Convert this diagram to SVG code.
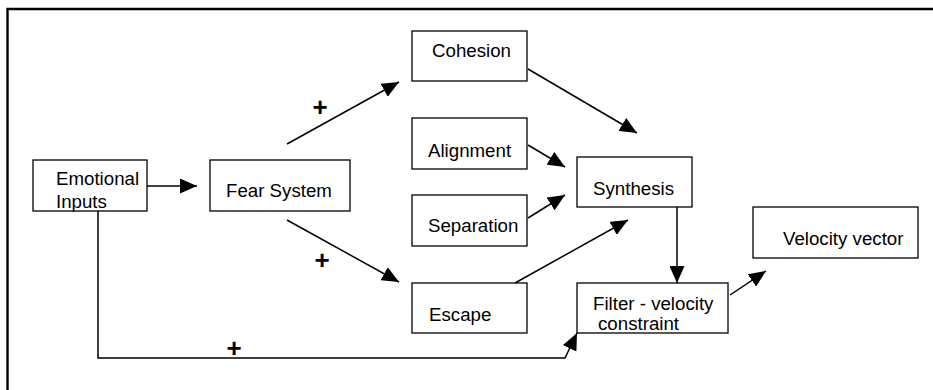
<svg xmlns="http://www.w3.org/2000/svg" width="933" height="390" viewBox="0 0 933 390">
  <style>
    .box { fill: #fff; stroke: #000; stroke-width: 1.3; }
    .lbl { font-family: "Liberation Sans", Arial, sans-serif; font-size: 18.7px; fill: #000; }
    .plus { font-family: "Liberation Sans", Arial, sans-serif; font-size: 26px; font-weight: bold; fill: #000; text-anchor: middle; }
    .conn { fill: none; stroke: #000; stroke-width: 1.5; marker-end: url(#head); }
    .frame { fill: none; stroke: #000; stroke-width: 2.4; }
  </style>
  <defs>
    <marker id="head" markerUnits="userSpaceOnUse" markerWidth="17" markerHeight="15" refX="17" refY="7.5" orient="auto">
      <path d="M0,0 L17,7.5 L0,15 z" fill="#000"/>
    </marker>
  </defs>
  <rect width="933" height="390" fill="#fff"/>

  <!-- open frame: top and left edges only -->
  <path class="frame" d="M7.5,390 V9 H933"/>

  <g id="connectors">
    <line class="conn" x1="147" y1="186" x2="197" y2="186"/>
    <line class="conn" x1="287" y1="144" x2="399" y2="82"/>
    <line class="conn" x1="287" y1="220" x2="399" y2="282"/>
    <line class="conn" x1="528" y1="69" x2="637" y2="133"/>
    <line class="conn" x1="528" y1="145" x2="565" y2="167"/>
    <line class="conn" x1="528" y1="218" x2="565" y2="195"/>
    <line class="conn" x1="515" y1="283" x2="628" y2="220"/>
    <line class="conn" x1="677" y1="207" x2="677" y2="283"/>
    <line class="conn" x1="730" y1="295" x2="766" y2="271"/>
    <path class="conn" d="M98,205 V358 H565 L577,333"/>
  </g>

  <g id="plus-labels">
    <text class="plus" x="320" y="116">+</text>
    <text class="plus" x="322" y="269">+</text>
    <text class="plus" x="234" y="357">+</text>
  </g>

  <g id="emotional-inputs">
    <rect class="box" x="33" y="160" width="114" height="51"/>
    <text class="lbl" x="56" y="185">Emotional</text>
    <text class="lbl" x="56" y="208">Inputs</text>
  </g>
  <g id="fear-system">
    <rect class="box" x="210" y="160" width="140" height="51"/>
    <text class="lbl" x="226" y="197">Fear System</text>
  </g>
  <g id="cohesion">
    <rect class="box" x="412" y="31" width="115" height="50"/>
    <text class="lbl" x="432" y="57">Cohesion</text>
  </g>
  <g id="alignment">
    <rect class="box" x="412" y="118" width="115" height="51"/>
    <text class="lbl" x="428" y="157">Alignment</text>
  </g>
  <g id="separation">
    <rect class="box" x="412" y="195" width="115" height="51"/>
    <text class="lbl" x="428" y="232">Separation</text>
  </g>
  <g id="escape">
    <rect class="box" x="412" y="283" width="115" height="50"/>
    <text class="lbl" x="429" y="321">Escape</text>
  </g>
  <g id="synthesis">
    <rect class="box" x="577" y="157" width="115" height="50"/>
    <text class="lbl" x="593" y="195">Synthesis</text>
  </g>
  <g id="filter">
    <rect class="box" x="577" y="283" width="151" height="50"/>
    <text class="lbl" x="593" y="310">Filter - velocity</text>
    <text class="lbl" x="598" y="330">constraint</text>
  </g>
  <g id="velocity-vector">
    <rect class="box" x="753" y="207" width="165" height="51"/>
    <text class="lbl" x="783" y="245">Velocity vector</text>
  </g>
</svg>
